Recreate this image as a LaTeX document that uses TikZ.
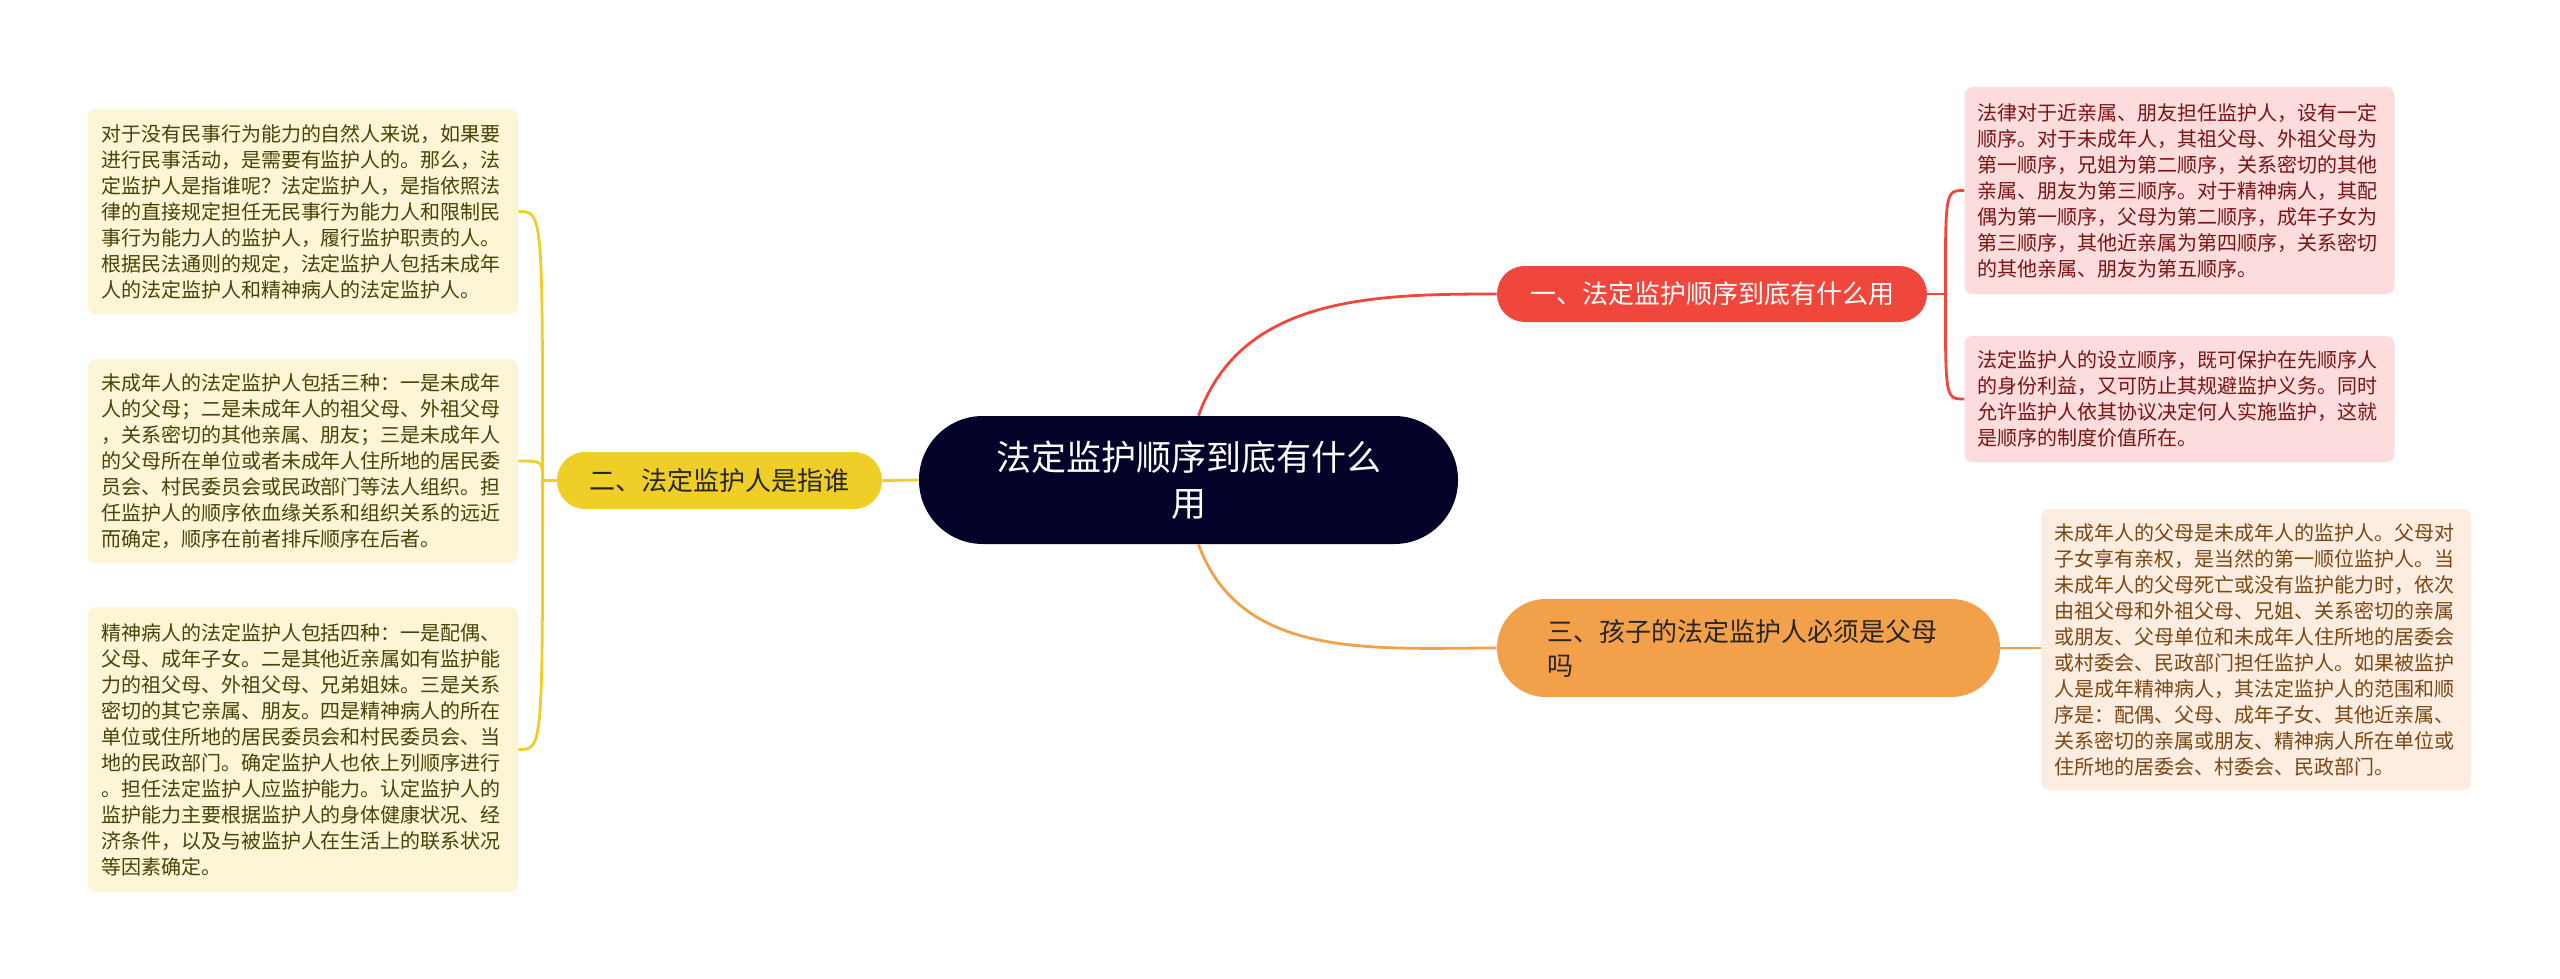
\documentclass[tikz,border=0pt]{standalone}
\usepackage{fontspec}
\newfontfamily\cjk{Noto Sans CJK SC}
\usetikzlibrary{calc}
\definecolor{cred}{HTML}{F0473D}
\definecolor{cyel}{HTML}{EFCF27}
\definecolor{corg}{HTML}{F3A04B}
\definecolor{cnavy}{HTML}{03032A}
\definecolor{lyel}{HTML}{FCF6D6}
\definecolor{lred}{HTML}{FCDCDC}
\definecolor{lorg}{HTML}{FDEDE1}
\definecolor{tyel}{HTML}{4A4206}
\definecolor{tred}{HTML}{7A1414}
\definecolor{torg}{HTML}{7A4612}
\begin{document}
\begin{tikzpicture}[x=1pt,y=1pt,
  leaf/.style={rounded corners=4pt, text width=202pt, inner xsep=6.5pt, inner ysep=0pt, align=left, font=\cjk\fontsize{10}{13}\selectfont},
  branch/.style={inner sep=0pt, font=\cjk\fontsize{13}{17}\selectfont},
  link/.style={line width=1.4pt}
]
\useasboundingbox[fill=white] (0,0) rectangle (1280,-489.5);

% center
\node[fill=cnavy, text=white, rounded corners=31.9pt, minimum width=269.5pt, minimum height=64pt, inner sep=0pt, align=center, font=\cjk\fontsize{17.5}{23}\selectfont] (c) at (594.25,-240) {法定监护顺序到底有什么\\用};

% branches
\node[branch, fill=cred, text=white, rounded corners=13.9pt, minimum width=215pt, minimum height=28pt] (b1) at (856,-147) {一、法定监护顺序到底有什么用};
\node[branch, fill=cyel, text=black!85, rounded corners=14.1pt, minimum width=162.5pt, minimum height=28.5pt] (b2) at (359.75,-240.25) {二、法定监护人是指谁};
\node[branch, fill=corg, text=black!85, rounded corners=24.4pt, minimum height=49pt, text width=201pt, inner xsep=25.25pt, align=left] (b3) at (874.25,-324) {三、孩子的法定监护人必须是父母\\吗};

% left leaves
\node[leaf, fill=lyel, text=tyel, minimum height=102.5pt] (l1) at (151.5,-105.75) {对于没有民事行为能力的自然人来说，如果要\\
进行民事活动，是需要有监护人的。那么，法\\
定监护人是指谁呢？法定监护人，是指依照法\\
律的直接规定担任无民事行为能力人和限制民\\
事行为能力人的监护人，履行监护职责的人。\\
根据民法通则的规定，法定监护人包括未成年\\
人的法定监护人和精神病人的法定监护人。};
\node[leaf, fill=lyel, text=tyel, minimum height=102pt] (l2) at (151.5,-230.5) {未成年人的法定监护人包括三种：一是未成年\\
人的父母；二是未成年人的祖父母、外祖父母\\
，关系密切的其他亲属、朋友；三是未成年人\\
的父母所在单位或者未成年人住所地的居民委\\
员会、村民委员会或民政部门等法人组织。担\\
任监护人的顺序依血缘关系和组织关系的远近\\
而确定，顺序在前者排斥顺序在后者。};
\node[leaf, fill=lyel, text=tyel, minimum height=142.5pt] (l3) at (151.5,-374.75) {精神病人的法定监护人包括四种：一是配偶、\\
父母、成年子女。二是其他近亲属如有监护能\\
力的祖父母、外祖父母、兄弟姐妹。三是关系\\
密切的其它亲属、朋友。四是精神病人的所在\\
单位或住所地的居民委员会和村民委员会、当\\
地的民政部门。确定监护人也依上列顺序进行\\
。担任法定监护人应监护能力。认定监护人的\\
监护能力主要根据监护人的身体健康状况、经\\
济条件，以及与被监护人在生活上的联系状况\\
等因素确定。};

% right leaves
\node[leaf, fill=lred, text=tred, minimum height=103.5pt] (r1) at (1089.75,-95.25) {法律对于近亲属、朋友担任监护人，设有一定\\
顺序。对于未成年人，其祖父母、外祖父母为\\
第一顺序，兄姐为第二顺序，关系密切的其他\\
亲属、朋友为第三顺序。对于精神病人，其配\\
偶为第一顺序，父母为第二顺序，成年子女为\\
第三顺序，其他近亲属为第四顺序，关系密切\\
的其他亲属、朋友为第五顺序。};
\node[leaf, fill=lred, text=tred, minimum height=63pt] (r2) at (1089.75,-199.5) {法定监护人的设立顺序，既可保护在先顺序人\\
的身份利益，又可防止其规避监护义务。同时\\
允许监护人依其协议决定何人实施监护，这就\\
是顺序的制度价值所在。};
\node[leaf, fill=lorg, text=torg, minimum height=140.5pt] (r3) at (1128,-324.75) {未成年人的父母是未成年人的监护人。父母对\\
子女享有亲权，是当然的第一顺位监护人。当\\
未成年人的父母死亡或没有监护能力时，依次\\
由祖父母和外祖父母、兄姐、关系密切的亲属\\
或朋友、父母单位和未成年人住所地的居委会\\
或村委会、民政部门担任监护人。如果被监护\\
人是成年精神病人，其法定监护人的范围和顺\\
序是：配偶、父母、成年子女、其他近亲属、\\
关系密切的亲属或朋友、精神病人所在单位或\\
住所地的居委会、村委会、民政部门。};

% center to branches
\draw[link, cred] ($(c.north)+(5,0)$) to[out=70,in=180] (b1.west);
\draw[link, corg] ($(c.south)+(5,0)$) to[out=-70,in=180] (b3.west);
\draw[link, cyel] (c.west) -- (b2.east);

% branch 1 to leaves
\draw[link, cred] (b1.east) -- ++(9,0) coordinate (j1);
\draw[link, cred] (j1) .. controls (j1 |- r1.west) .. (r1.west);
\draw[link, cred] (j1) .. controls (j1 |- r2.west) .. (r2.west);

% branch 2 to leaves
\draw[link, cyel] (b2.west) -- ++(-7,0) coordinate (j2);
\draw[link, cyel] (j2) .. controls (j2 |- l1.east) .. (l1.east);
\draw[link, cyel] (j2) .. controls (j2 |- l2.east) .. (l2.east);
\draw[link, cyel] (j2) .. controls (j2 |- l3.east) .. (l3.east);

% branch 3 to leaf
\draw[link, corg] (b3.east) -- (b3.east -| r3.west);
\end{tikzpicture}
\end{document}
